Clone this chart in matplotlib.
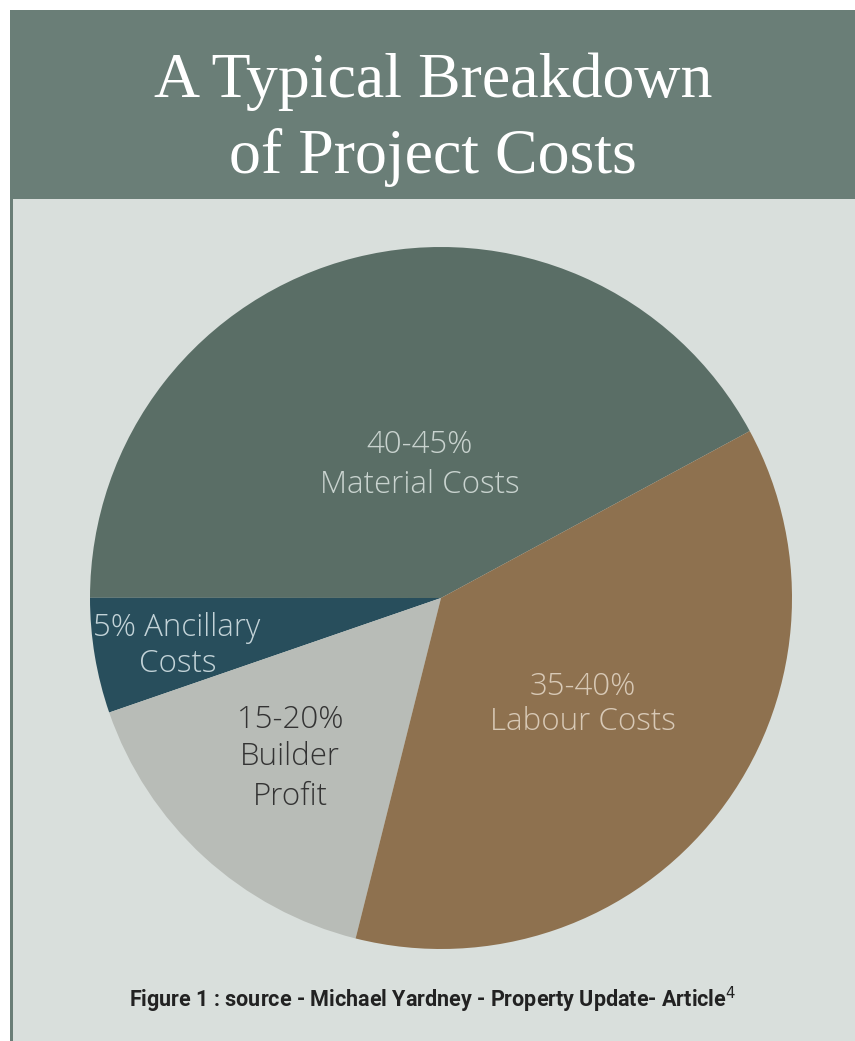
import matplotlib.pyplot as plt
from matplotlib.patches import Rectangle

W, H = 855, 1041

# data (share of total)
categories = ['Material Costs', 'Ancillary Costs', 'Builder Profit', 'Labour Costs']
shares = [42.1, 5.3, 15.8, 36.8]
ranges = ['40-45%', '5%', '15-20%', '35-40%']
colors = ['#5a6e66', '#284e5c', '#b8bcb7', '#8e714f']

title_lines = ['A Typical Breakdown', 'of Project Costs']
caption = 'Figure 1 : source - Michael Yardney - Property Update- Article$^4$'


def fx(x):
    return x / W


def fy(y):
    return 1 - y / H


fig = plt.figure(figsize=(W / 100, H / 100), dpi=100)
fig.patch.set_facecolor('white')

# background panel + header band
fig.patches.append(Rectangle((fx(11), 0), 1 - fx(11), fy(199), transform=fig.transFigure,
                             facecolor='#d9dfdc', edgecolor='none', zorder=-2))
fig.patches.append(Rectangle((fx(10), 0), fx(3), fy(10), transform=fig.transFigure,
                             facecolor='#6a7e77', edgecolor='none', zorder=-1))
fig.patches.append(Rectangle((fx(10), fy(199)), 1 - fx(10), fy(10) - fy(199),
                             transform=fig.transFigure, facecolor='#6a7e77',
                             edgecolor='none', zorder=-1))

fig.text(fx(433), fy(97), title_lines[0], ha='center', va='baseline', color='white',
         fontsize=46, family='Liberation Serif')
fig.text(fx(433), fy(173), title_lines[1], ha='center', va='baseline', color='white',
         fontsize=46, family='Liberation Serif')

# pie: centre (441, 598), radius ~351 px
cx, cy, r = 441, 598, 351
ax = fig.add_axes([fx(cx - r), fy(cy + r), 2 * r / W, 2 * r / H], zorder=2)
ax.patch.set_alpha(0)
ax.pie(shares, colors=colors, startangle=28.4, counterclock=True,
       wedgeprops=dict(linewidth=0), radius=1)
ax.set_xlim(-1, 1)
ax.set_ylim(-1, 1)
ax.set_aspect('auto')
ax.axis('off')

lab_font = dict(family='Open Sans', fontsize=22.5, fontweight='light', ha='center',
                va='center', zorder=5)
# (x px, y px, text, colour) for each label line
label_lines = [
    (420, 445, ranges[0], '#c9d3cf'),
    (420, 485, categories[0], '#c9d3cf'),
    (583, 687, ranges[3], '#d8c9b6'),
    (583, 722, categories[3], '#d8c9b6'),
    (290, 720, ranges[2], '#333333'),
    (290, 757, categories[2].split()[0], '#333333'),
    (290, 797, categories[2].split()[1], '#333333'),
    (177, 628, ranges[1] + ' ' + categories[1].split()[0], '#c3d3d8'),
    (178, 664, categories[1].split()[1], '#c3d3d8'),
]
for x, y, t, c in label_lines:
    fig.text(fx(x), fy(y), t, color=c, **lab_font)

fig.text(fx(433), fy(1000), caption, ha='center', va='center', color='#222222',
         fontsize=15.5, fontweight='bold', family='Roboto')

fig.savefig('out.png', dpi=100)
